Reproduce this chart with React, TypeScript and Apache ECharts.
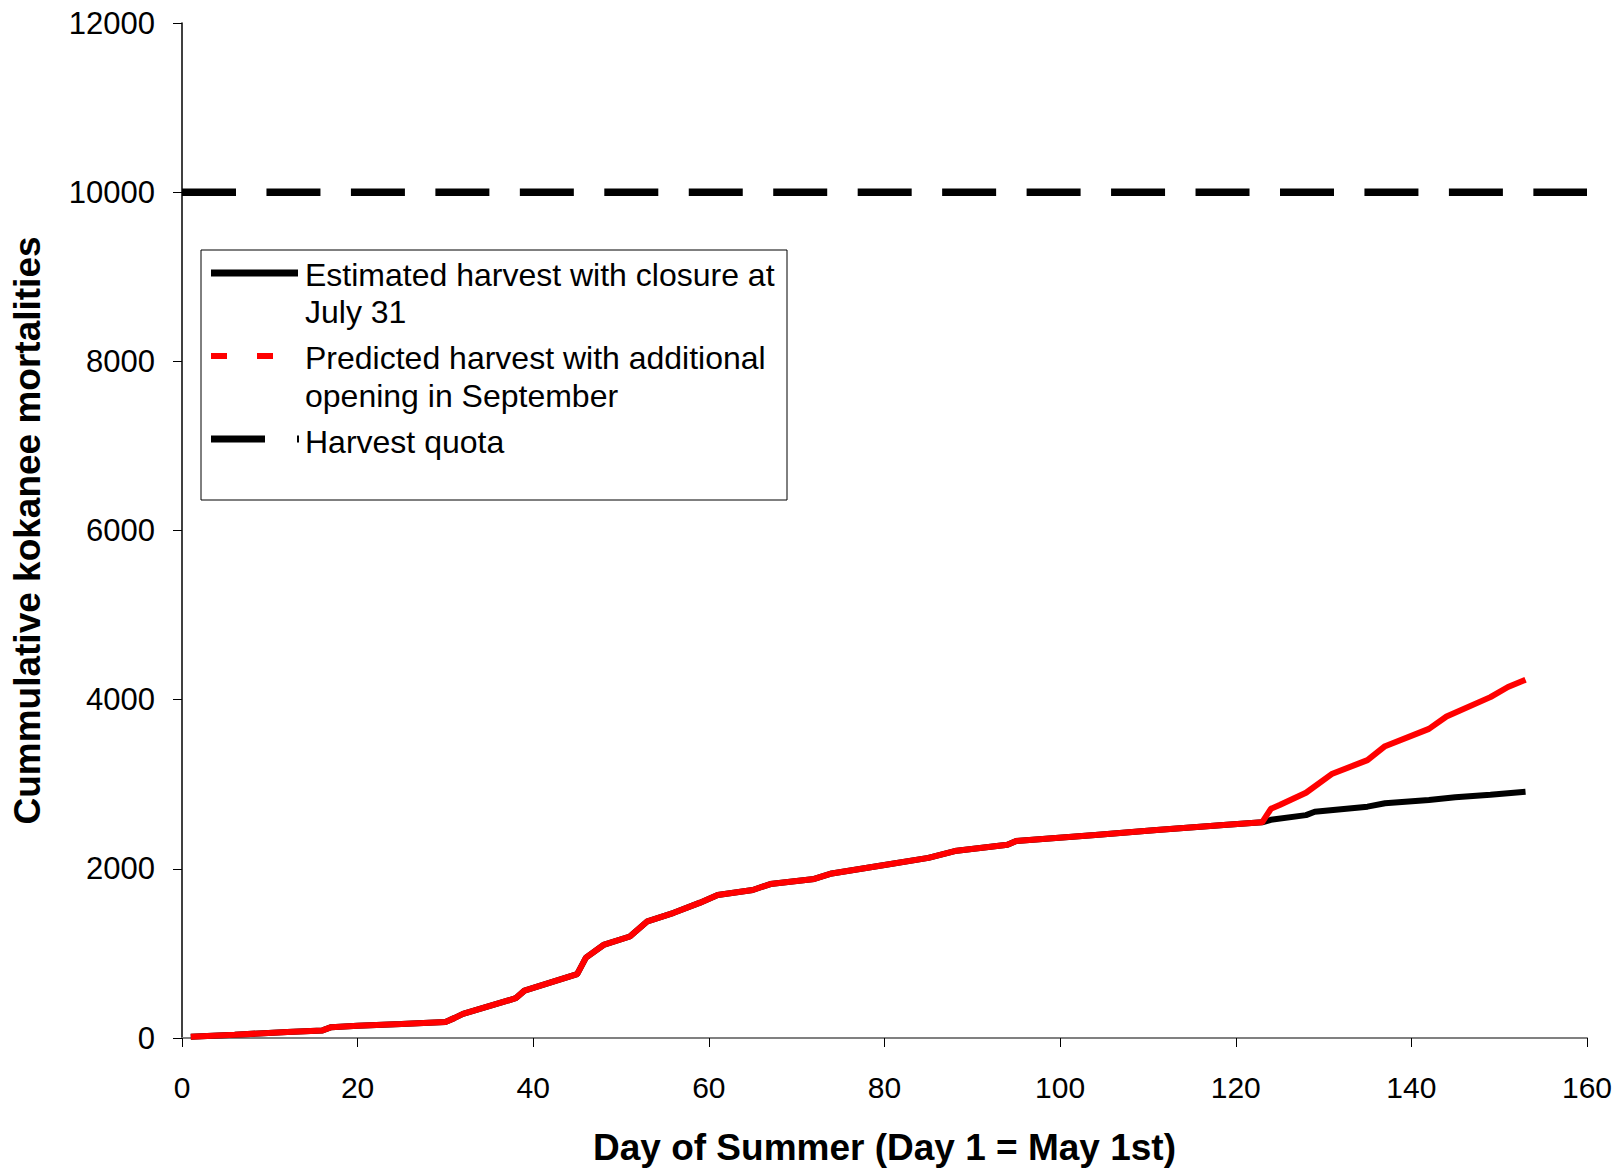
import React, { useEffect, useRef } from "react";
import * as echarts from "echarts";

// Shared part of both curves (day, cumulative mortalities)
const commonDays = [1, 6, 12, 16, 17, 20, 25, 30, 31, 32, 38, 39, 45, 46, 48, 51, 53, 56, 59, 61, 65, 67, 72, 74, 80, 85, 88, 94, 95, 104, 111, 119, 123];
const commonVals = [15, 38, 72, 90, 128, 145, 165, 190, 235, 285, 470, 560, 755, 950, 1100, 1200, 1380, 1480, 1600, 1690, 1750, 1820, 1880, 1945, 2045, 2130, 2210, 2285, 2330, 2400, 2460, 2520, 2550];

// Closure at July 31 (black) tail
const closureDays = [124, 128, 129, 135, 137, 142, 145, 149, 153];
const closureVals = [2580, 2635, 2675, 2735, 2775, 2815, 2845, 2875, 2910];

// Additional opening in September (red) tail
const openingDays = [124, 125, 128, 131, 135, 137, 142, 144, 149, 151, 153];
const openingVals = [2710, 2755, 2900, 3125, 3285, 3450, 3655, 3800, 4030, 4150, 4235];

const quotaValue = 10000;
const xTicks = [0, 20, 40, 60, 80, 100, 120, 140, 160];
const yTicks = [0, 2000, 4000, 6000, 8000, 10000, 12000];

const legendLabels = [
  ["Estimated harvest with closure at", "July 31"],
  ["Predicted harvest with additional", "opening in September"],
  ["Harvest quota"],
];

const FONT = "'Liberation Sans', Arial, sans-serif";

export default function App() {
  const ref = useRef<HTMLDivElement>(null);

  useEffect(() => {
    document.body.style.margin = "0";
    const chart = echarts.init(ref.current!, null, { renderer: "svg" });

    const pair = (d: number[], v: number[]) => d.map((x, i) => [x, v[i]]);
    const closure = pair(commonDays, commonVals).concat(pair(closureDays, closureVals));
    const opening = pair(commonDays, commonVals).concat(pair(openingDays, openingVals));

    const textStyle = { fill: "#000", font: `32px ${FONT}` };

    chart.setOption({
      animation: false,
      backgroundColor: "#fff",
      grid: { left: 182, right: 36, top: 23, bottom: 129 },
      xAxis: {
        type: "value",
        min: xTicks[0],
        max: xTicks[xTicks.length - 1],
        interval: 20,
        name: "Day of Summer (Day 1 = May 1st)",
        nameLocation: "middle",
        nameGap: 91,
        nameTextStyle: { fontFamily: FONT, fontWeight: "bold", fontSize: 37, color: "#000" },
        axisLine: { show: true, lineStyle: { color: "#808080", width: 2 } },
        axisTick: { show: true, inside: false, length: 9, lineStyle: { color: "#000", width: 1 } },
        axisLabel: { fontFamily: FONT, fontSize: 30, color: "#000", margin: 34, formatter: (v: number) => String(v) },
        splitLine: { show: false },
      },
      yAxis: {
        type: "value",
        min: yTicks[0],
        max: yTicks[yTicks.length - 1],
        interval: 2000,
        name: "Cummulative kokanee mortalities",
        nameLocation: "middle",
        nameGap: 136,
        nameTextStyle: { fontFamily: FONT, fontWeight: "bold", fontSize: 37, color: "#000" },
        axisLine: { show: true, lineStyle: { color: "#000", width: 1.5 } },
        axisTick: { show: true, inside: false, length: 9, lineStyle: { color: "#000", width: 1 } },
        axisLabel: { fontFamily: FONT, fontSize: 31, color: "#000", margin: 27, formatter: (v: number) => String(v) },
        splitLine: { show: false },
      },
      series: [
        {
          name: "Harvest quota",
          type: "line",
          data: [[xTicks[0], quotaValue], [xTicks[xTicks.length - 1], quotaValue]],
          symbol: "none",
          lineStyle: { color: "#000", width: 7.5, type: [54, 30.46], cap: "butt" },
          z: 2,
        },
        {
          name: "Estimated harvest with closure at July 31",
          type: "line",
          data: closure,
          symbol: "none",
          lineStyle: { color: "#000", width: 6 },
          z: 3,
        },
        {
          name: "Predicted harvest with additional opening in September",
          type: "line",
          data: opening,
          symbol: "none",
          lineStyle: { color: "#ff0000", width: 6 },
          z: 4,
        },
      ],
      graphic: [
        {
          type: "rect",
          shape: { x: 201, y: 250, width: 586, height: 250 },
          style: { fill: "#fff", stroke: "#000", lineWidth: 1 },
          z: 10,
        },
        {
          type: "line",
          shape: { x1: 211, y1: 273, x2: 298, y2: 273 },
          style: { stroke: "#000", lineWidth: 7 },
          z: 11,
        },
        {
          type: "line",
          shape: { x1: 211, y1: 356, x2: 227, y2: 356 },
          style: { stroke: "#ff0000", lineWidth: 6 },
          z: 11,
        },
        {
          type: "line",
          shape: { x1: 257, y1: 356, x2: 273, y2: 356 },
          style: { stroke: "#ff0000", lineWidth: 6 },
          z: 11,
        },
        {
          type: "line",
          shape: { x1: 211, y1: 439, x2: 265, y2: 439 },
          style: { stroke: "#000", lineWidth: 7 },
          z: 11,
        },
        {
          type: "line",
          shape: { x1: 297, y1: 439, x2: 299, y2: 439 },
          style: { stroke: "#000", lineWidth: 7 },
          z: 11,
        },
        { type: "text", x: 305, y: 275, style: { ...textStyle, text: legendLabels[0][0], verticalAlign: "middle" }, z: 11 },
        { type: "text", x: 305, y: 312, style: { ...textStyle, text: legendLabels[0][1], verticalAlign: "middle" }, z: 11 },
        { type: "text", x: 305, y: 358, style: { ...textStyle, text: legendLabels[1][0], verticalAlign: "middle" }, z: 11 },
        { type: "text", x: 305, y: 396, style: { ...textStyle, text: legendLabels[1][1], verticalAlign: "middle" }, z: 11 },
        { type: "text", x: 305, y: 442, style: { ...textStyle, text: legendLabels[2][0], verticalAlign: "middle" }, z: 11 },
      ],
    });

    return () => chart.dispose();
  }, []);

  return <div ref={ref} style={{ width: 1623, height: 1171 }} />;
}
